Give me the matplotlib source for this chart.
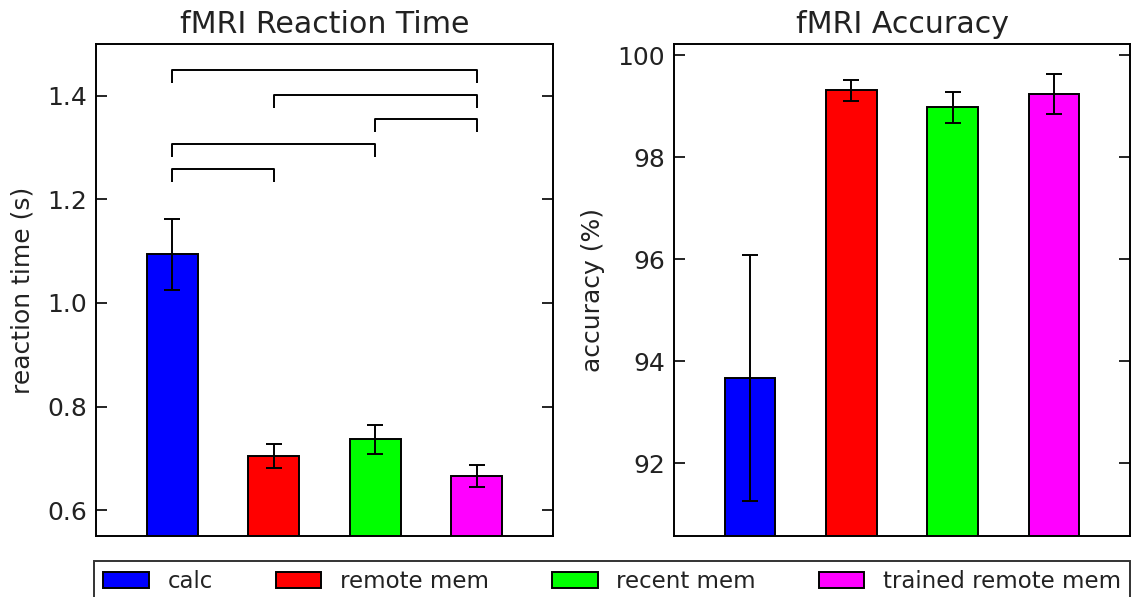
import matplotlib
matplotlib.use("Agg")
import matplotlib.pyplot as plt
import numpy as np
from matplotlib.patches import Patch

categories = ["calc", "remote mem", "recent mem", "trained remote mem"]
colors = ["#0000ff", "#ff0000", "#00ff00", "#ff00ff"]

rt_mean = [1.094, 0.705, 0.737, 0.666]
rt_err = [0.069, 0.023, 0.028, 0.021]

acc_mean = [93.67, 99.31, 98.98, 99.24]
acc_err = [2.42, 0.20, 0.30, 0.39]

# significance brackets: (left bar, right bar, height)
brackets = [(0, 3, 1.450), (1, 3, 1.402), (2, 3, 1.355), (0, 2, 1.306), (0, 1, 1.258)]
bracket_drop = 0.025

rt_yticks = [0.6, 0.8, 1.0, 1.2, 1.4]
acc_yticks = [92, 94, 96, 98, 100]

plt.rcParams["font.family"] = "DejaVu Sans"

W, H = 1133, 597
fig = plt.figure(figsize=(W / 100, H / 100), dpi=100)

def fx(px):
    return px / W

def fy(py):
    return 1 - py / H

ax1 = fig.add_axes([fx(96), fy(536), fx(553 - 96), (536 - 44) / H])
ax2 = fig.add_axes([fx(674), fy(536), fx(1130 - 674), (536 - 44) / H])

x = np.arange(len(categories))
lw = 1.4

for ax, mean, err in [(ax1, rt_mean, rt_err), (ax2, acc_mean, acc_err)]:
    ax.bar(x, mean, width=0.5, color=colors, edgecolor="black", linewidth=lw,
           yerr=err, error_kw=dict(ecolor="black", elinewidth=lw, capsize=5.5, capthick=lw))
    ax.set_xlim(-0.75, 3.75)
    ax.set_xticks([])
    ax.tick_params(axis="y", direction="in", length=8, width=1.2, left=True, right=True,
                   labelsize=18, pad=6.5, labelcolor="#222222")
    for s in ax.spines.values():
        s.set_linewidth(1.4)

ax1.set_ylim(0.55, 1.5)
ax1.set_yticks(rt_yticks)
ax1.set_yticklabels([f"{v:.1f}" for v in rt_yticks])
ax1.set_ylabel("reaction time (s)", fontsize=18, labelpad=9, color="#222222")
ax1.set_title("fMRI Reaction Time", fontsize=21.6, pad=8, color="#222222")

for a, b, h in brackets:
    ax1.plot([x[a], x[a], x[b], x[b]], [h - bracket_drop, h, h, h - bracket_drop],
             color="black", linewidth=lw, solid_capstyle="butt")

ax2.set_ylim(90.57, 100.22)
ax2.set_yticks(acc_yticks)
ax2.set_yticklabels([str(v) for v in acc_yticks])
ax2.set_ylabel("accuracy (%)", fontsize=18, labelpad=9, color="#222222")
ax2.set_title("fMRI Accuracy", fontsize=21.6, pad=8, color="#222222")

handles = [Patch(facecolor=c, edgecolor="black", linewidth=lw) for c in colors]
leg = fig.legend(handles, categories, loc="upper left", ncol=4, mode="expand",
                 bbox_to_anchor=(fx(94), 0, fx(1130 - 94), fy(561)), borderaxespad=0,
                 fontsize=16.5, fancybox=False, frameon=True, handlelength=2.0,
                 handleheight=0.7, handletextpad=0.8, borderpad=0.4)
for t in leg.get_texts():
    t.set_color("#222222")
leg.get_frame().set_edgecolor("black")
leg.get_frame().set_linewidth(1.4)

fig.savefig("out.png", dpi=100)
